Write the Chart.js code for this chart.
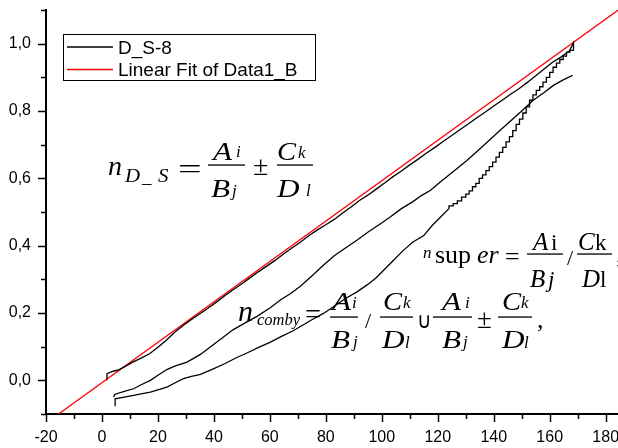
<!DOCTYPE html>
<html>
<head>
<meta charset="utf-8">
<script src="https://cdn.jsdelivr.net/npm/chart.js@4.4.0/dist/chart.umd.min.js"></script>
<style>
html,body{margin:0;padding:0;background:#ffffff;}
canvas{display:block;}
</style>
</head>
<body>
<canvas id="c" width="618" height="448"></canvas>
<script>
// ---- data ----
const upperX = [1.8,1.8,4,6,8,11,14,17,20,23,26,29,32,35,38,41,44,47,50,53,56,59,62,65,68,71,74,77,80,83,86,89,92,95,98,101,104,107,110,113,116,119,122,125,128,131,134,137,140,143,146,149,152,155,158,161,164,167,168.5,168.5];
const upperY = [0.0,0.02,0.027,0.031,0.04,0.054,0.066,0.079,0.098,0.119,0.143,0.163,0.181,0.198,0.215,0.233,0.252,0.27,0.287,0.305,0.323,0.34,0.357,0.376,0.394,0.411,0.43,0.447,0.462,0.478,0.497,0.515,0.534,0.55,0.568,0.586,0.605,0.622,0.64,0.657,0.675,0.692,0.71,0.727,0.745,0.762,0.78,0.797,0.815,0.832,0.85,0.866,0.885,0.905,0.925,0.945,0.96,0.978,1.003,0.98];

const middleX = [4.2,4.5,8,11.3,14,17.3,20,23.2,26,30.4,35.2,38.7,42,46.8,51,55.4,60,64,67.3,71,75,79.1,83,87,91.1,95,99,103,107,111,114,117.3,121,124,127,130.4,134,138,142.2,146,150,154.1,158,161.3,165,168.2];
const middleY = [-0.05,-0.042,-0.033,-0.025,-0.013,0.0,0.015,0.032,0.042,0.054,0.077,0.099,0.12,0.15,0.17,0.19,0.215,0.24,0.257,0.28,0.31,0.342,0.37,0.393,0.416,0.44,0.462,0.485,0.51,0.53,0.548,0.564,0.59,0.61,0.63,0.653,0.68,0.71,0.742,0.77,0.8,0.832,0.855,0.876,0.893,0.906];

const lowerX = [4.7,4.7,8,11.3,14,17.3,20,23.2,26,29.1,32,35.2,40,44,48,52,56,60,64,68.5,72,75,79,83,87,91,95,98,101,104,107.7,111,115,118,121,124,
  125.5,127,128.5,130,131.2,132.4,133.6,134.8,136,137.2,138.4,139.6,140.8,142,143.2,144.4,145.6,146.8,148,149.2,150.4,151.6,152.8,154,155.2,156.4,157.6,158.8,160,161.2,162.4,163.6,164.8,166,167.2,168.5];
const lowerY = [-0.077,-0.055,-0.05,-0.045,-0.04,-0.035,-0.028,-0.02,-0.008,0.005,0.012,0.018,0.035,0.05,0.067,0.082,0.098,0.113,0.13,0.148,0.165,0.18,0.198,0.22,0.243,0.262,0.285,0.305,0.33,0.355,0.386,0.41,0.43,0.46,0.485,0.51,
  0.518,0.525,0.533,0.544,0.553,0.563,0.575,0.585,0.6,0.61,0.623,0.635,0.648,0.663,0.677,0.692,0.708,0.724,0.742,0.76,0.776,0.794,0.812,0.832,0.848,0.861,0.872,0.886,0.9,0.915,0.93,0.942,0.953,0.963,0.975,0.98];
const lowerStairsFrom = 124; // the recorded staircase is clearly visible from here on

const fitX = [-20,185];
const fitY = [-0.127,1.103];

const xTickValues = [-20,0,20,40,60,80,100,120,140,160,180];
const xTickLabels = ['-20','0','20','40','60','80','100','120','140','160','180'];
const yTickValues = [0,0.2,0.4,0.6,0.8,1.0];
const yTickLabels = ['0,0','0,2','0,4','0,6','0,8','1,0'];

const seriesName = 'D_S-8';
const fitName = 'Linear Fit of Data1_B';

// ---- helpers ----
const pts = (xs, ys) => xs.map((x, i) => ({x: x, y: ys[i]}));
const findLabel = (vals, labels, v, eps) => {
  for (let i = 0; i < vals.length; i++) if (Math.abs(vals[i] - v) < eps) return labels[i];
  return '';
};
const isMajor = (vals, v, eps) => vals.some(t => Math.abs(t - v) < eps);

const tickMarks = {
  id: 'tickMarks',
  afterDraw(chart) {
    const ctx = chart.ctx;
    const xs = chart.scales.x, ys = chart.scales.y;
    const area = chart.chartArea;
    ctx.save();
    ctx.strokeStyle = '#000';
    ctx.lineWidth = 1.5;
    xs.ticks.forEach(t => {
      const px = Math.round(xs.getPixelForValue(t.value)) + 0.5;
      const len = isMajor(xTickValues, t.value, 1e-6) ? 8 : 5;
      ctx.beginPath(); ctx.moveTo(px, area.bottom); ctx.lineTo(px, area.bottom + len); ctx.stroke();
    });
    ys.ticks.forEach(t => {
      const py = Math.round(ys.getPixelForValue(t.value)) + 0.5;
      const len = isMajor(yTickValues, t.value, 1e-6) ? 8 : 5;
      ctx.beginPath(); ctx.moveTo(area.left, py); ctx.lineTo(area.left - len, py); ctx.stroke();
    });
    ctx.restore();
  }
};

const boxLegend = {
  id: 'boxLegend',
  afterDraw(chart) {
    const ctx = chart.ctx;
    const ds = chart.data.datasets;
    const entries = [ds[0], ds[4]];
    ctx.save();
    ctx.strokeStyle = '#000';
    ctx.lineWidth = 1;
    ctx.fillStyle = '#fff';
    ctx.fillRect(63, 34, 252, 46);
    ctx.strokeRect(63.5, 34.5, 252, 46);
    ctx.font = '19px "Liberation Sans", Arial, sans-serif';
    ctx.textBaseline = 'alphabetic';
    entries.forEach((d, i) => {
      const ly = 47 + i * 22.5;
      ctx.strokeStyle = d.borderColor;
      ctx.lineWidth = 1.3;
      ctx.beginPath(); ctx.moveTo(67, ly); ctx.lineTo(113, ly); ctx.stroke();
      ctx.fillStyle = '#000';
      ctx.fillText(d.label, 118, 53.5 + i * 22.5);
    });
    ctx.restore();
  }
};

const formulas = {
  id: 'formulas',
  afterDraw(chart) {
    const ctx = chart.ctx;
    ctx.save();
    ctx.fillStyle = '#000';
    ctx.textBaseline = 'alphabetic';
    const t = (s, x, y, size, style, sx) => {
      ctx.save();
      ctx.font = (style || 'italic') + ' ' + size + 'px "Liberation Serif", "Times New Roman", serif';
      ctx.translate(x, y);
      ctx.scale(sx || 1, 1);
      ctx.fillText(s, 0, 0);
      ctx.restore();
    };
    const bar = (x1, x2, y) => ctx.fillRect(x1, y - 0.6, x2 - x1, 1.3);
    const W = 1.2; // capitals look wider in the reference

    // n_{D_S} = A_i/B_j ± C_k/D_l
    t('n', 108, 175, 28);
    t('D', 125, 182, 19, 'italic', 1.1); t('_', 142, 183, 19); t('S', 158, 182, 19, 'italic', 1.1);
    t('=', 178, 178, 28, 'normal', 1.5);
    t('A', 213, 160, 26, 'italic', W); t('i', 236, 157, 17);
    bar(208, 245, 165);
    t('B', 211, 197, 26, 'italic', W); t('j', 232, 196, 17);
    t('\u00B1', 253, 175, 28, 'normal');
    t('C', 277, 160, 26, 'italic', 1.1); t('k', 298, 158, 17);
    bar(277, 313, 165);
    t('D', 277, 197, 26, 'italic', W); t('l', 306, 196, 17);

    // n sup er = Ai/Bj / Ck/Dl
    t('n', 423, 258, 17);
    t('sup', 435, 263, 26, 'normal');
    t('er', 477, 263, 26);
    t('=', 505, 265, 26, 'normal');
    t('A', 533, 250, 25); t('i', 551, 250, 23, 'normal');
    bar(527, 563, 254);
    t('B', 530, 287, 25); t('j', 548, 287, 23);
    t('/', 567, 265, 22, 'normal');
    t('C', 578, 250, 25); t('k', 595, 250, 23, 'normal');
    bar(577, 612, 254);
    t('D', 582, 287, 25); t('l', 600, 287, 23, 'normal');
    t(',', 616, 263, 26, 'normal');

    // n_comby = Ai/Bj / Ck/Dl U Ai/Bj ± Ck/Dl,
    t('n', 238, 321, 30);
    t('comby', 257, 325, 16.5);
    t('=', 305, 323, 27, 'normal', 1.05);
    t('A', 332, 310, 26, 'italic', W); t('i', 352, 308, 17);
    bar(330, 358, 317);
    t('B', 331, 348, 26, 'italic', W); t('j', 353, 347, 17);
    t('/', 365, 328, 22, 'normal');
    t('C', 383, 310, 26, 'italic', 1.1); t('k', 403, 308, 17);
    bar(380, 413, 317);
    t('D', 382, 348, 26, 'italic', W); t('l', 405, 348, 17);
    t('\u222A', 417, 328, 22, 'normal', 0.9);
    t('A', 442, 310, 26, 'italic', W); t('i', 465, 308, 17);
    bar(433, 472, 317);
    t('B', 442, 348, 26, 'italic', W); t('j', 463, 347, 17);
    t('\u00B1', 477, 328, 27, 'normal');
    t('C', 502, 310, 26, 'italic', 1.1); t('k', 521, 308, 17);
    bar(498, 532, 317);
    t('D', 502, 348, 26, 'italic', W); t('l', 524, 348, 17);
    t(',', 537, 328, 26, 'normal');
    ctx.restore();
  }
};

const lineDs = (label, data, color, stepped) => ({
  label: label, data: data, borderColor: color, backgroundColor: color,
  borderWidth: 1.3, pointRadius: 0, tension: 0, fill: false, stepped: stepped || false
});

const lowerAll = pts(lowerX, lowerY);
const lowerSmooth = lowerAll.filter(p => p.x <= lowerStairsFrom);
const lowerStairs = lowerAll.filter(p => p.x >= lowerStairsFrom);

const noPadV = s => { s.width = 46; s.paddingTop = 0; s.paddingBottom = 0; };
const noPadH = s => { s.height = 34; s.paddingLeft = 0; s.paddingRight = 0; };

new Chart(document.getElementById('c'), {
  type: 'line',
  data: {
    datasets: [
      lineDs(seriesName, pts(upperX, upperY), '#000000'),
      lineDs(seriesName, pts(middleX, middleY), '#000000'),
      lineDs(seriesName, lowerSmooth, '#000000'),
      lineDs(seriesName, lowerStairs, '#000000', 'after'),
      lineDs(fitName, pts(fitX, fitY), '#ff0000')
    ]
  },
  options: {
    responsive: false,
    animation: false,
    devicePixelRatio: 1,
    layout: {padding: {top: 10, right: 0, bottom: 0, left: 0}},
    plugins: {legend: {display: false}, tooltip: {enabled: false}},
    scales: {
      x: {
        type: 'linear', min: -20, max: 184.4,
        grid: {display: true, drawOnChartArea: false, drawTicks: false},
        border: {display: true, color: '#000', width: 2},
        ticks: {
          stepSize: 10, includeBounds: false, autoSkip: false, maxRotation: 0,
          color: '#000', padding: 14,
          font: {family: '"Liberation Sans", Arial, sans-serif', size: 16},
          callback: v => findLabel(xTickValues, xTickLabels, v, 1e-6)
        },
        afterFit: noPadH
      },
      y: {
        type: 'linear', min: -0.1, max: 1.1,
        grid: {display: true, drawOnChartArea: false, drawTicks: false},
        border: {display: true, color: '#000', width: 2},
        ticks: {
          stepSize: 0.1, includeBounds: false, autoSkip: false,
          color: '#000', padding: 15,
          font: {family: '"Liberation Sans", Arial, sans-serif', size: 16},
          callback: v => findLabel(yTickValues, yTickLabels, v, 1e-6)
        },
        afterFit: noPadV
      }
    }
  },
  plugins: [tickMarks, boxLegend, formulas]
});
</script>
</body>
</html>
